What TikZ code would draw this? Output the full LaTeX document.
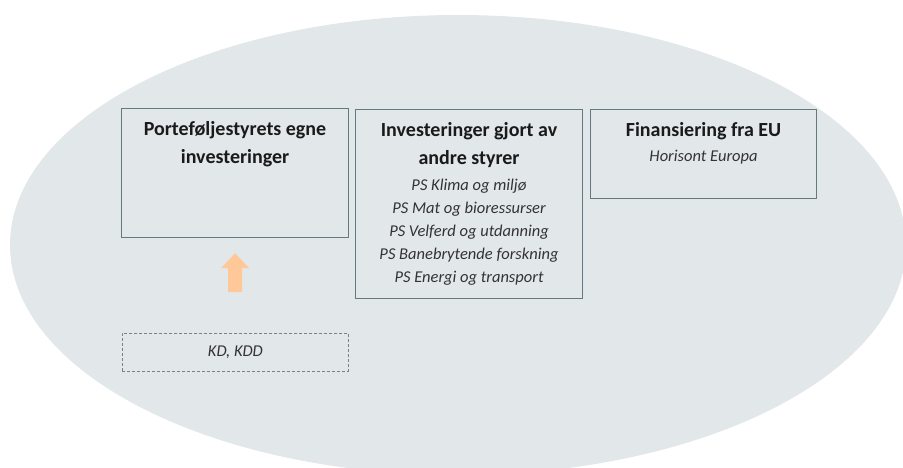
\documentclass[tikz,border=0pt]{standalone}
\usepackage{fontspec}
\setmainfont{Carlito}
\usepackage{tikz}
\usetikzlibrary{positioning,arrows.meta}
\definecolor{cloud}{RGB}{226,231,234}
\definecolor{frame}{RGB}{104,120,129}
\definecolor{peach}{RGB}{255,200,152}
\definecolor{ink}{RGB}{26,26,26}
\newcommand{\titlefont}{\fontsize{20}{28.5}\selectfont\bfseries}
\newcommand{\listfont}{\fontsize{16.5}{23}\selectfont\itshape}

\begin{document}
\begin{tikzpicture}[x=1pt,y=-1pt]
\tikzstyle{board}=[draw=frame,line width=1.1pt,inner sep=0pt,anchor=north west]
\tikzstyle{title}=[anchor=north,inner sep=0pt,align=center,text=ink,font=\titlefont]
\tikzstyle{items}=[inner sep=0pt,align=center,text=black!80,font=\listfont]
\useasboundingbox (0,0) rectangle (903,467);
\begin{scope}
\clip (0,0) rectangle (903,467);
\fill[cloud] (458,245) ellipse [x radius=448pt,y radius=230pt];
\end{scope}
% the three boards
\node[board,minimum width=227pt,minimum height=129pt] (own) at (121,108) {};
\node[board,minimum width=227pt,minimum height=189pt] (other) at (355,109) {};
\node[board,minimum width=226pt,minimum height=89pt] (eu) at (590,109) {};
\node[board,dashed,draw=black!50,line width=0.8pt,dash pattern=on 3pt off 2pt,
	minimum width=226pt,minimum height=38pt] (kd) at (122,333) {};
\node[items] (kdT) at (kd.center) {KD, KDD};
% texts
\node[title] (ownT) at ([yshift=-13pt]own.north) {Porteføljestyrets egne\\investeringer};
\node[title] (otherT) at ([yshift=-13pt]other.north) {Investeringer gjort av\\andre styrer};
\node[items,anchor=north,below=11pt of otherT] (otherL) {PS Klima og miljø\\PS Mat og bioressurser\\PS Velferd og utdanning\\PS Banebrytende forskning\\PS Energi og transport};
\node[title] (euT) at ([yshift=-13pt]eu.north) {Finansiering fra EU};
\node[items,anchor=north,below=10pt of euT] (euS) {Horisont Europa};
% arrow
\draw[peach,line width=14pt,-{Triangle[width=27pt,length=15pt]},shorten <=41pt,shorten >=15pt] (kd.north) -- (own.south);
\end{tikzpicture}
\end{document}
